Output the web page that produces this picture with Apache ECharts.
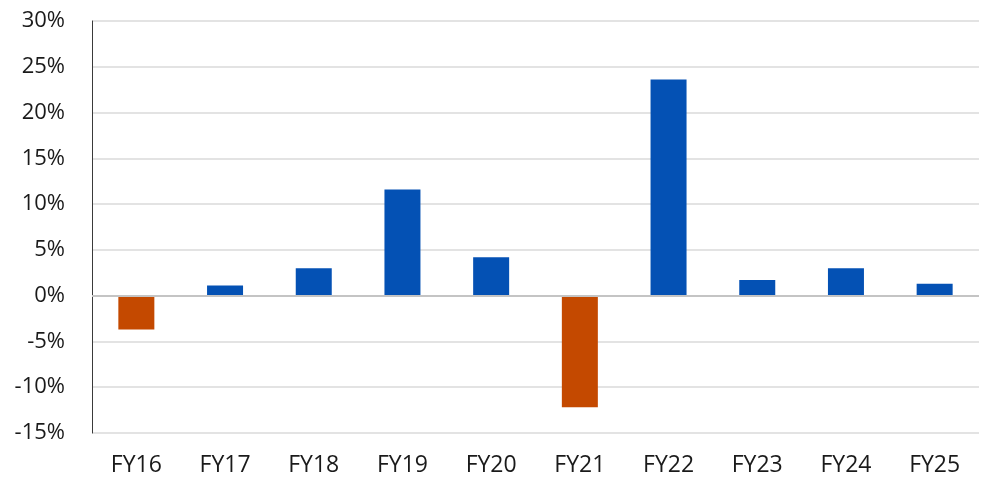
<!DOCTYPE html>
<html>
<head>
<meta charset="utf-8">
<title>FY growth</title>
<script src="https://cdn.jsdelivr.net/npm/echarts@6/dist/echarts.min.js"></script>
<style>
  html, body { margin: 0; padding: 0; background: #ffffff; }
  #chart { width: 986px; height: 483px; }
</style>
</head>
<body>
<div id="chart"></div>
<script>
// Fiscal years shown on the category axis
const categories = ['FY16', 'FY17', 'FY18', 'FY19', 'FY20', 'FY21', 'FY22', 'FY23', 'FY24', 'FY25'];
// Year-over-year change, in percent
const growth = [-3.7, 1.1, 3.0, 11.6, 4.2, -12.2, 23.6, 1.7, 3.0, 1.3];
// Value axis range and step, in percent
const yMin = -15;
const yMax = 30;
const yStep = 5;

const POS_COLOR = '#0451B4';
const NEG_COLOR = '#C44900';
const TEXT_COLOR = '#1a1a1a';
const FONT = '"Open Sans", "Liberation Sans", sans-serif';

const chart = echarts.init(document.getElementById('chart'), null, { renderer: 'canvas' });

chart.setOption({
  animation: false,
  backgroundColor: '#ffffff',
  grid: { left: 92, right: 7, top: 21, bottom: 50, containLabel: false },
  xAxis: {
    type: 'category',
    data: categories,
    axisLine: { show: false },
    axisTick: { show: false },
    axisLabel: {
      color: TEXT_COLOR,
      fontFamily: FONT,
      fontSize: 23,
      margin: 21
    },
    splitLine: { show: false }
  },
  yAxis: {
    type: 'value',
    min: yMin,
    max: yMax,
    interval: yStep,
    axisLine: { show: true, lineStyle: { color: '#3a3a3a', width: 1 } },
    axisTick: { show: false },
    axisLabel: {
      formatter: '{value}%',
      color: TEXT_COLOR,
      fontFamily: FONT,
      fontSize: 22,
      margin: 27
    },
    splitLine: { show: true, lineStyle: { color: '#dadada', width: 1.5 } }
  },
  series: [{
    type: 'bar',
    data: growth,
    barWidth: 36,
    itemStyle: {
      color: function (p) { return p.value < 0 ? NEG_COLOR : POS_COLOR; }
    },
    markLine: {
      silent: true,
      symbol: 'none',
      label: { show: false },
      lineStyle: { color: '#c4c4c4', width: 2, type: 'solid' },
      data: [{ yAxis: 0 }]
    }
  }]
});
</script>
</body>
</html>
